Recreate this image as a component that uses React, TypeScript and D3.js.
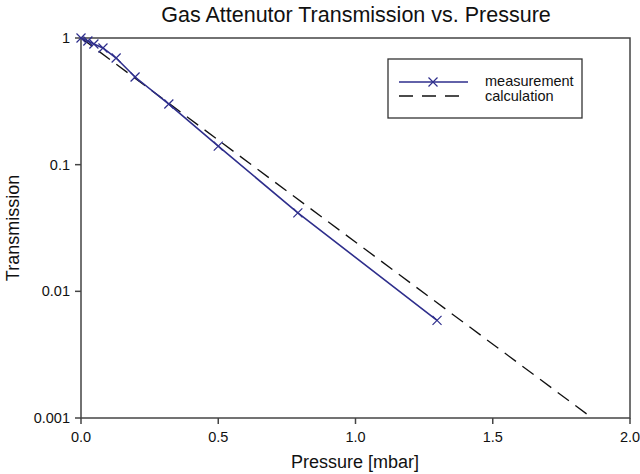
import React from "react";
import * as d3 from "d3";

const measPressure = [0, 0.025, 0.047, 0.08, 0.128, 0.197, 0.32, 0.5, 0.79, 1.297];
const measTransmission = [1, 0.947, 0.897, 0.834, 0.695, 0.492, 0.301, 0.14, 0.0416, 0.0059];
const calcPressure = [0, 1.862];
const calcTransmission = [1, 0.001];
const xTicks = [0, 0.5, 1.0, 1.5, 2.0];
const yTicks = [1, 0.1, 0.01, 0.001];
const yTickLabels = ["1", "0.1", "0.01", "0.001"];

const W = 640, H = 474;
const L = 81, R = 630, T = 38, B = 418;
const font = "Liberation Sans, Arial, sans-serif";

export default function App() {
  const x = d3.scaleLinear().domain([0, 2]).range([L, R]);
  const y = d3.scaleLog().domain([0.001, 1]).range([B, T]);
  const meas = measPressure.map((p, i) => [p, measTransmission[i]] as [number, number]);
  const calc = calcPressure.map((p, i) => [p, calcTransmission[i]] as [number, number]);
  const line = d3.line<[number, number]>().x(d => x(d[0])).y(d => y(d[1]));
  const navy = "#2e2e8c";
  const m = 4.5;
  return (
    <svg width={W} height={H} style={{ position: "absolute", left: 0, top: 0, background: "#fff" }} fontFamily={font}>
      <rect x={0} y={0} width={W} height={H} fill="#fff" />
      <text x={356} y={22} textAnchor="middle" fontSize={21.5} fill="#111">Gas Attenutor Transmission vs. Pressure</text>
      <rect x={L} y={T} width={R - L} height={B - T} fill="none" stroke="#444" strokeWidth={1.5} />
      {xTicks.map(t => (
        <g key={t}>
          <line x1={x(t)} x2={x(t)} y1={B} y2={B + 6} stroke="#444" strokeWidth={1.5} />
          <text x={x(t)} y={B + 24} textAnchor="middle" fontSize={14.5} fill="#111">{t.toFixed(1)}</text>
        </g>
      ))}
      {yTicks.map((t, i) => (
        <g key={t}>
          <line x1={L - 6} x2={L} y1={y(t)} y2={y(t)} stroke="#444" strokeWidth={1.5} />
          <text x={L - 11} y={y(t) + 5} textAnchor="end" fontSize={14.5} fill="#111">{yTickLabels[i]}</text>
        </g>
      ))}
      <text x={355} y={468} textAnchor="middle" fontSize={18} fill="#111">Pressure [mbar]</text>
      <text transform={`translate(19,228) rotate(-90)`} textAnchor="middle" fontSize={18} fill="#111">Transmission</text>
      <path d={line(calc) || ""} fill="none" stroke="#111" strokeWidth={1.3} strokeDasharray="14,8" />
      <path d={line(meas) || ""} fill="none" stroke={navy} strokeWidth={1.6} />
      {meas.map((d, i) => (
        <path key={i} d={`M${x(d[0]) - m},${y(d[1]) - m}L${x(d[0]) + m},${y(d[1]) + m}M${x(d[0]) - m},${y(d[1]) + m}L${x(d[0]) + m},${y(d[1]) - m}`} stroke={navy} strokeWidth={1.2} />
      ))}
      <rect x={388} y={59} width={194} height={59} fill="#fff" stroke="#333" strokeWidth={1.3} />
      <line x1={399} x2={468} y1={82} y2={82} stroke={navy} strokeWidth={1.6} />
      <path d={`M${433 - m},${82 - m}L${433 + m},${82 + m}M${433 - m},${82 + m}L${433 + m},${82 - m}`} stroke={navy} strokeWidth={1.2} />
      <line x1={399} x2={468} y1={96} y2={96} stroke="#111" strokeWidth={1.3} strokeDasharray="14,9" />
      <text x={485} y={86} fontSize={14.5} fill="#111">measurement</text>
      <text x={485} y={101} fontSize={14.5} fill="#111">calculation</text>
    </svg>
  );
}
